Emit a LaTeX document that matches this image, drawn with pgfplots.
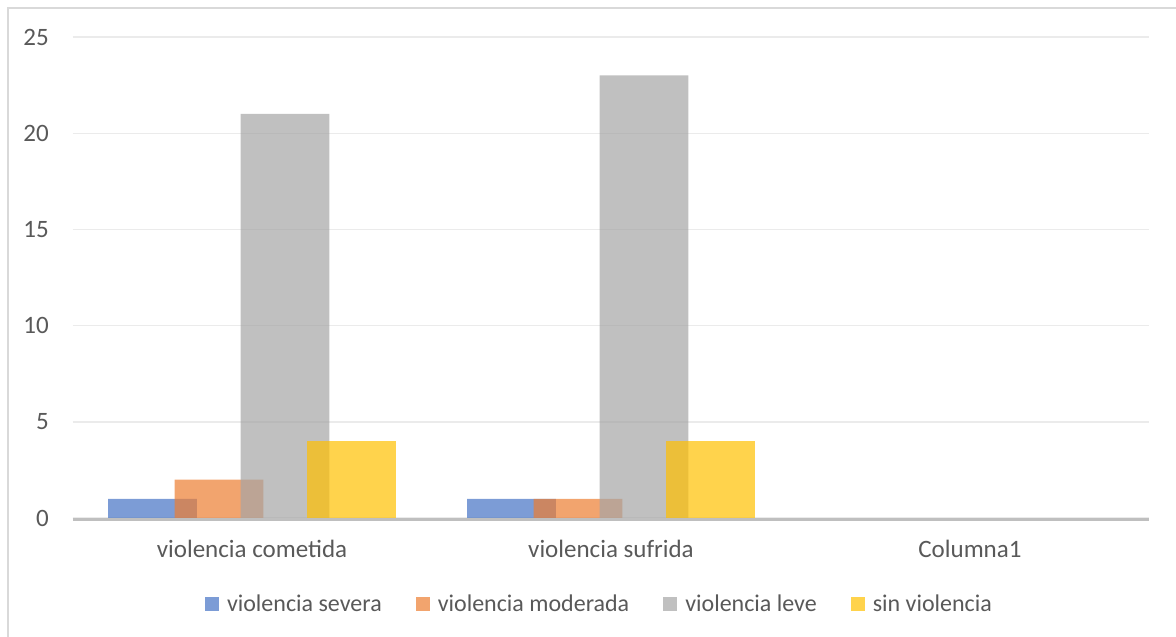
\documentclass[border=0pt]{standalone}
\usepackage{fontspec}
\setmainfont{Carlito}
\usepackage{pgfplots}
\pgfplotsset{compat=1.18}

\definecolor{sevBlue}{HTML}{4472C4}
\definecolor{modOrange}{HTML}{ED7D31}
\definecolor{levGray}{HTML}{A5A5A5}
\definecolor{sinYellow}{HTML}{FFC000}
\definecolor{labelGray}{HTML}{595959}
\definecolor{gridGray}{HTML}{EBEBEB}
\definecolor{baseGray}{HTML}{BFBFBF}
\definecolor{frameGray}{HTML}{D9D9D9}

\begin{document}
\begin{tikzpicture}
\begin{axis}[
  name=ax,
  at={(72.5pt,-518pt)}, anchor=south west,
  width=1077pt, height=481pt, scale only axis,
  xmin=-0.5, xmax=2.5, ymin=0, ymax=25,
  ybar, bar width=0.2468,
  /pgf/number format/assume math mode=true,
  xtick={0,1,2},
  xticklabels={violencia cometida, violencia sufrida, Columna1},
  ytick={0,5,...,25},
  ymajorgrids,
  grid style={color=gridGray, line width=1.4pt},
  axis line style={draw=none},
  major tick length=0pt,
  tick style={draw=none},
  tick label style={font=\fontsize{25}{30}\selectfont, text=labelGray},
  yticklabel style={anchor=east, inner sep=0pt, xshift=-23.5pt},
  xticklabel style={anchor=base, inner sep=0pt, yshift=-39pt},
  legend columns=4,
  legend style={at={(0.4893,-0.1788)}, anchor=center, draw=none, fill=none,
    font=\fontsize{24}{29}\selectfont, text=labelGray,
    /tikz/every even column/.append style={column sep=32pt},
    /tikz/every odd column/.append style={column sep=6pt}},
  legend image code/.code={\fill[#1] (0pt,-7pt) rectangle (14pt,7pt);},
]
% the Columna1 category carries no values
\addplot[draw=none, fill=sevBlue, fill opacity=0.7, bar shift=-0.2772]
  coordinates {(0,1) (1,1)};
\addplot[draw=none, fill=modOrange, fill opacity=0.7, bar shift=-0.0919]
  coordinates {(0,2) (1,1)};
\addplot[draw=none, fill=levGray, fill opacity=0.7, bar shift=0.0919]
  coordinates {(0,21) (1,23)};
\addplot[draw=none, fill=sinYellow, fill opacity=0.7, bar shift=0.2772]
  coordinates {(0,4) (1,4)};
\legend{violencia severa, violencia moderada, violencia leve, sin violencia}
\end{axis}
% horizontal category axis line along the bottom of the plot area
\draw[baseGray, line width=2.7pt] ([yshift=-1.3pt]ax.south west) -- ([yshift=-1.3pt]ax.south east);
% chart frame
\draw[frameGray, line width=2pt] (7.5pt,-637pt) -- (7.5pt,-7.5pt) -- (1176pt,-7.5pt);
\pgfresetboundingbox
\useasboundingbox (0pt,0pt) rectangle (1176pt,-637pt);
\end{tikzpicture}
\end{document}
